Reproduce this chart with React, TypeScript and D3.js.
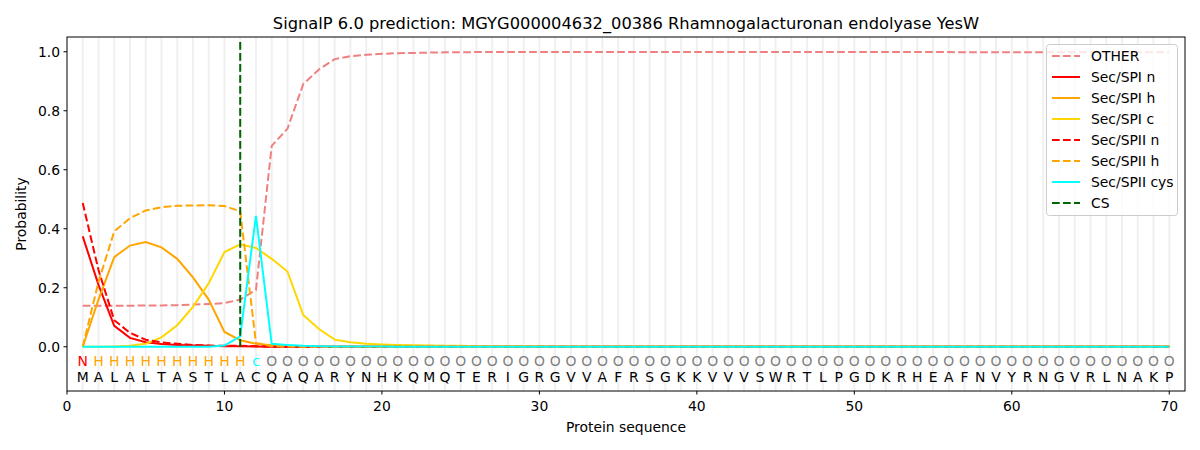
import React from "react";
import * as d3 from "d3";

const sequence = "MALALTASTLACQAQARYNHKQMQTERIGRGVVAFRSGKKVVVSWRTLPGDKRHEAFNVYRNGVRLNAKP".split("");
const regionLabels = ["N", "H", "H", "H", "H", "H", "H", "H", "H", "H", "H", "c", ...Array(58).fill("O")];

const other = [0.139, 0.139, 0.139, 0.139, 0.14, 0.14, 0.141, 0.143, 0.145, 0.148, 0.16, 0.193, 0.681, 0.739, 0.89, 0.94, 0.975, 0.985, 0.99, 0.993, 0.995, 0.996, 0.997, 0.998, 0.998, 0.999, 0.999, 0.999, 0.999, 0.999, 0.999, 0.999, 0.999, 0.999, 0.999, 0.999, 0.999, 0.999, 0.999, 0.999, 0.999, 0.999, 0.999, 0.999, 0.999, 0.999, 0.999, 0.999, 0.999, 0.999, 0.999, 0.999, 0.999, 0.999, 0.999, 0.999, 0.998, 0.998, 0.998, 0.998, 0.998, 0.998, 0.998, 0.998, 0.998, 0.998, 0.998, 0.998, 0.998, 0.998];
const spiN = [0.374, 0.21, 0.071, 0.03, 0.015, 0.009, 0.006, 0.004, 0.003, 0.002, 0.002, 0.001, 0, 0, 0, 0, 0, 0, 0, 0, 0, 0, 0, 0, 0, 0, 0, 0, 0, 0, 0, 0, 0, 0, 0, 0, 0, 0, 0, 0, 0, 0, 0, 0, 0, 0, 0, 0, 0, 0, 0, 0, 0, 0, 0, 0, 0, 0, 0, 0, 0, 0, 0, 0, 0, 0, 0, 0, 0, 0];
const spiH = [0.0, 0.16, 0.304, 0.343, 0.355, 0.337, 0.298, 0.235, 0.16, 0.05, 0.022, 0.01, 0.005, 0.002, 0.001, 0, 0, 0, 0, 0, 0, 0, 0, 0, 0, 0, 0, 0, 0, 0, 0, 0, 0, 0, 0, 0, 0, 0, 0, 0, 0, 0, 0, 0, 0, 0, 0, 0, 0, 0, 0, 0, 0, 0, 0, 0, 0, 0, 0, 0, 0, 0, 0, 0, 0, 0, 0, 0, 0, 0];
const spiC = [0, 0, 0.001, 0.003, 0.01, 0.032, 0.073, 0.135, 0.215, 0.321, 0.347, 0.335, 0.298, 0.255, 0.108, 0.06, 0.024, 0.015, 0.01, 0.008, 0.006, 0.005, 0.004, 0.003, 0.003, 0.002, 0.002, 0.002, 0.002, 0.002, 0.001, 0.001, 0.001, 0.001, 0.001, 0.001, 0.001, 0.001, 0.001, 0.001, 0.001, 0.001, 0.001, 0.001, 0.001, 0.001, 0.001, 0.001, 0.001, 0.001, 0.001, 0.001, 0.001, 0.001, 0.001, 0.001, 0.001, 0.001, 0.001, 0.001, 0.001, 0.001, 0.001, 0.001, 0.001, 0.001, 0.001, 0.001, 0.001, 0.001];
const spiiN = [0.487, 0.26, 0.09, 0.047, 0.024, 0.015, 0.01, 0.006, 0.004, 0.003, 0.003, 0.002, 0, 0, 0, 0, 0, 0, 0, 0, 0, 0, 0, 0, 0, 0, 0, 0, 0, 0, 0, 0, 0, 0, 0, 0, 0, 0, 0, 0, 0, 0, 0, 0, 0, 0, 0, 0, 0, 0, 0, 0, 0, 0, 0, 0, 0, 0, 0, 0, 0, 0, 0, 0, 0, 0, 0, 0, 0, 0];
const spiiH = [0.0, 0.22, 0.391, 0.436, 0.462, 0.473, 0.478, 0.479, 0.48, 0.477, 0.459, 0.013, 0.002, 0.001, 0, 0, 0, 0, 0, 0, 0, 0, 0, 0, 0, 0, 0, 0, 0, 0, 0, 0, 0, 0, 0, 0, 0, 0, 0, 0, 0, 0, 0, 0, 0, 0, 0, 0, 0, 0, 0, 0, 0, 0, 0, 0, 0, 0, 0, 0, 0, 0, 0, 0, 0, 0, 0, 0, 0, 0];
const spiiCys = [0, 0, 0, 0, 0, 0, 0, 0, 0, 0.004, 0.035, 0.444, 0.01, 0.006, 0.003, 0.002, 0.001, 0.001, 0.001, 0.001, 0, 0, 0, 0, 0, 0, 0, 0, 0, 0, 0, 0, 0, 0, 0, 0, 0, 0, 0, 0, 0, 0, 0, 0, 0, 0, 0, 0, 0, 0, 0, 0, 0, 0, 0, 0, 0, 0, 0, 0, 0, 0, 0, 0, 0, 0, 0, 0, 0, 0];
const csPosition = 11;

const xTicks = [0, 10, 20, 30, 40, 50, 60, 70];
const yTicks = [0, 0.2, 0.4, 0.6, 0.8, 1.0];

const series = [
  { name: "OTHER", values: other, color: "#F08080", dash: true },
  { name: "Sec/SPI n", values: spiN, color: "#FF0000", dash: false },
  { name: "Sec/SPI h", values: spiH, color: "#FFA500", dash: false },
  { name: "Sec/SPI c", values: spiC, color: "#FFD700", dash: false },
  { name: "Sec/SPII n", values: spiiN, color: "#FF0000", dash: true },
  { name: "Sec/SPII h", values: spiiH, color: "#FFA500", dash: true },
  { name: "Sec/SPII cys", values: spiiCys, color: "#00FFFF", dash: false },
];

const labelColor: Record<string, string> = { N: "#FF0000", H: "#FFA500", c: "#00FFFF", O: "#808080" };

const W = 1200, H = 450;
const L = 67, R = 1185, T = 37, B = 391;
const font = "'DejaVu Sans', sans-serif";
const FS = 13.9;

export default function App() {
  const x = d3.scaleLinear().domain([0, 71]).range([L, R]);
  const y = d3.scaleLinear().domain([-0.15, 1.05]).range([B, T]);
  const line = d3.line<number>().x((_, i) => x(i + 1)).y((v) => y(v));
  const positions = d3.range(1, sequence.length + 1);
  const dash = "7.7,3.3";
  const LW = 2;

  return (
    <svg width={W} height={H} style={{ position: "absolute", left: 0, top: 0, background: "#fff" }} fontFamily={font}>
      <rect x={0} y={0} width={W} height={H} fill="#fff" />
      <text x={(L + R) / 2} y={29} textAnchor="middle" fontSize={16.3} fill="#000">
        SignalP 6.0 prediction: MGYG000004632_00386 Rhamnogalacturonan endolyase YesW
      </text>
      <clipPath id="clip">
        <rect x={L} y={T} width={R - L} height={B - T} />
      </clipPath>
      <g>
        {positions.map((p) => (
          <line key={p} x1={x(p)} x2={x(p)} y1={T} y2={B} stroke="#f0f0f0" strokeWidth={2} />
        ))}
      </g>
      <g clipPath="url(#clip)">
        {series.map((s) => (
          <path key={s.name} d={line(s.values) || ""} fill="none" stroke={s.color} strokeWidth={LW}
            strokeDasharray={s.dash ? dash : undefined} />
        ))}
        <line x1={x(csPosition)} x2={x(csPosition)} y1={y(0)} y2={y(1.04)} stroke="#006400" strokeWidth={LW} strokeDasharray={dash} />
      </g>
      {positions.map((p, i) => (
        <g key={"lab" + p}>
          <text x={x(p)} y={366} textAnchor="middle" fontSize={FS} fill={labelColor[regionLabels[i]]}>{regionLabels[i]}</text>
          <text x={x(p)} y={382} textAnchor="middle" fontSize={FS} fill="#000">{sequence[i]}</text>
        </g>
      ))}
      <rect x={L} y={T} width={R - L} height={B - T} fill="none" stroke="#000" strokeWidth={1} />
      {xTicks.map((t) => (
        <g key={"xt" + t}>
          <line x1={x(t)} x2={x(t)} y1={B} y2={B + 3.5} stroke="#000" />
          <text x={x(t)} y={B + 20} textAnchor="middle" fontSize={FS} fill="#000">{t}</text>
        </g>
      ))}
      {yTicks.map((t) => (
        <g key={"yt" + t}>
          <line x1={L - 3.5} x2={L} y1={y(t)} y2={y(t)} stroke="#000" />
          <text x={L - 7} y={y(t) + 5} textAnchor="end" fontSize={FS} fill="#000">{t.toFixed(1)}</text>
        </g>
      ))}
      <text x={(L + R) / 2} y={432} textAnchor="middle" fontSize={FS} fill="#000">Protein sequence</text>
      <text transform={`translate(26,${(T + B) / 2}) rotate(-90)`} textAnchor="middle" fontSize={FS} fill="#000">Probability</text>
      <g>
        <rect x={1046.5} y={44.5} width={131} height={171} rx={3} fill="#fff" fillOpacity={0.8} stroke="#cccccc" />
        {[...series.map((s) => ({ name: s.name, color: s.color, dash: s.dash })), { name: "CS", color: "#006400", dash: true }].map((s, i) => (
          <g key={"lg" + s.name}>
            <line x1={1052} x2={1080} y1={56 + i * 21} y2={56 + i * 21} stroke={s.color} strokeWidth={LW}
              strokeDasharray={s.dash ? dash : undefined} />
            <text x={1091} y={61 + i * 21} fontSize={FS} fill="#000">{s.name}</text>
          </g>
        ))}
      </g>
    </svg>
  );
}
